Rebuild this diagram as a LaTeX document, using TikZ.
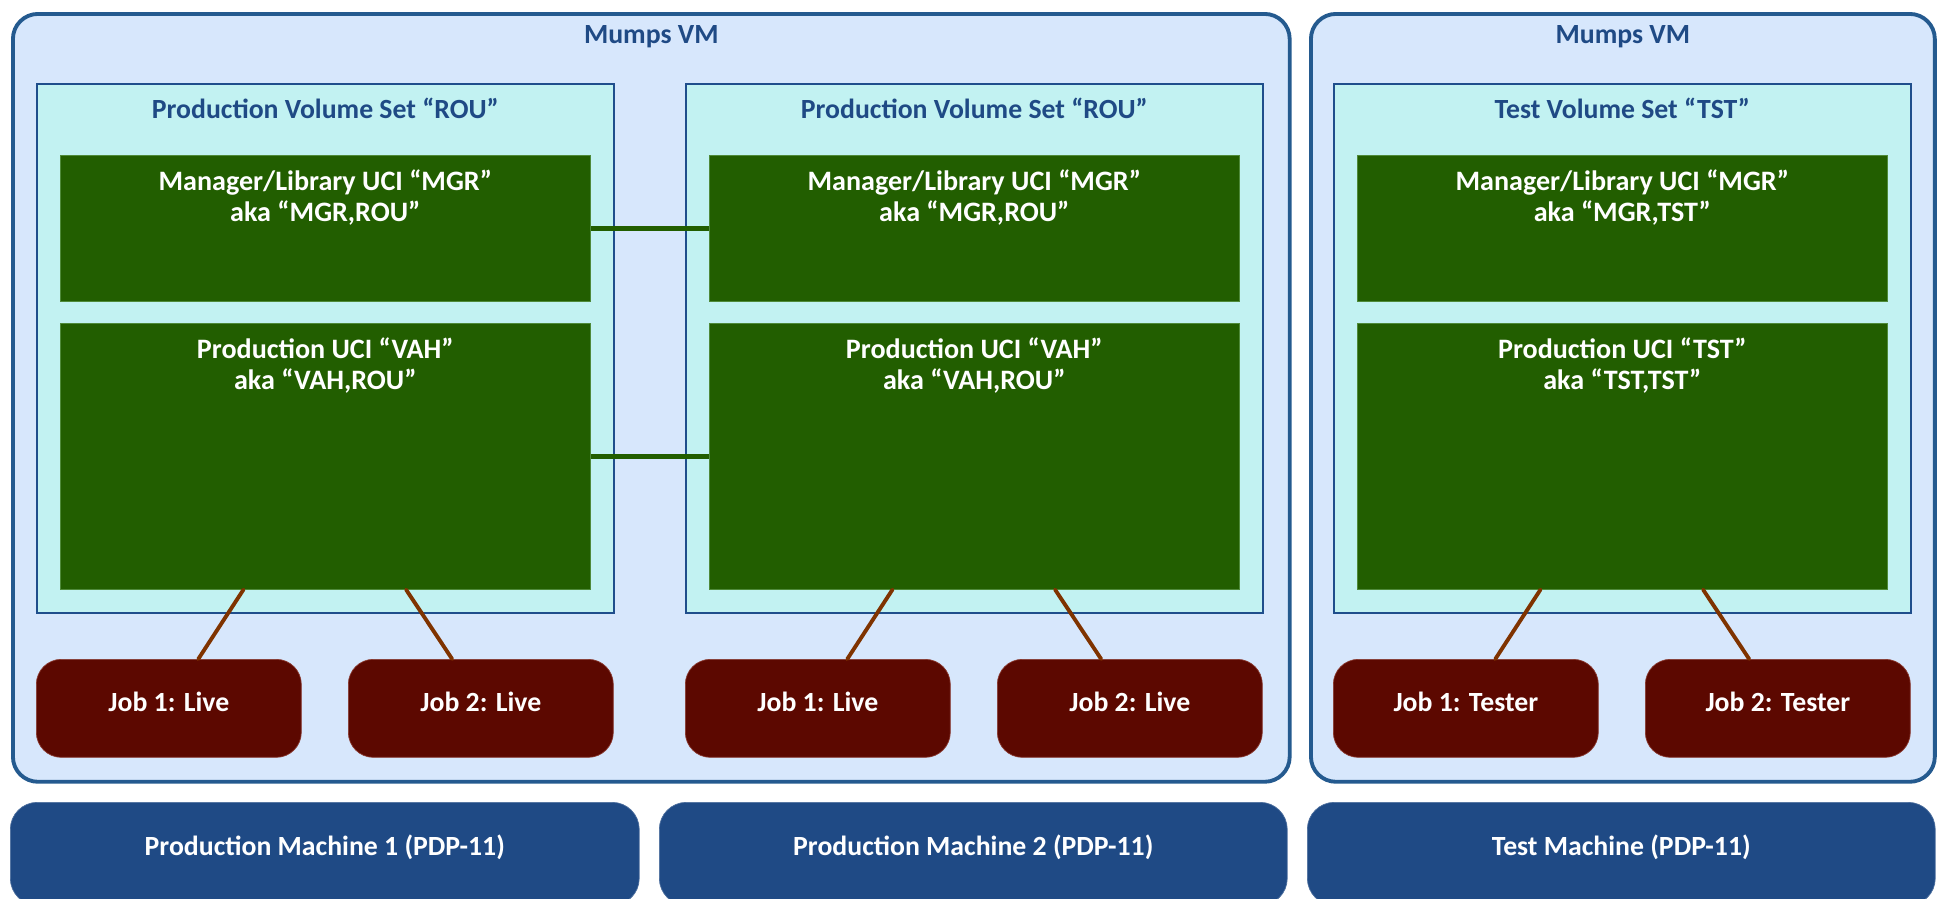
\documentclass[tikz,border=0pt]{standalone}
\usepackage{fontspec}
\setmainfont{Carlito}
\usetikzlibrary{calc}
\definecolor{vmfill}{HTML}{D7E7FC}
\definecolor{vmline}{HTML}{245A8F}
\definecolor{volfill}{HTML}{C2F2F2}
\definecolor{volline}{HTML}{1F4E8C}
\definecolor{ucifill}{HTML}{225E00}
\definecolor{uciline}{HTML}{4F8A3A}
\definecolor{jobfill}{HTML}{5C0800}
\definecolor{jobline}{HTML}{8A3A30}
\definecolor{linkbrown}{HTML}{7F3300}
\definecolor{hostfill}{HTML}{1F4A85}
\definecolor{titleblue}{HTML}{1F4A85}

\begin{document}
\begin{tikzpicture}[x=0.02cm, y=-0.02cm,
  every node/.style={font=\fontsize{15.8}{18}\selectfont\bfseries},
  vm/.style={draw=vmline, line width=2.2pt, fill=vmfill, rounded corners=0.5cm, anchor=north west, minimum height=15.36cm, inner sep=0},
  vol/.style={draw=volline, line width=1pt, fill=volfill, anchor=north west, minimum width=11.54cm, minimum height=10.58cm, inner sep=0},
  uci/.style={draw=uciline, line width=0.4pt, fill=ucifill, anchor=north west, minimum width=10.62cm, inner sep=0},
  job/.style={draw=jobline, line width=0.4pt, fill=jobfill, text=white, rounded corners=0.5cm, anchor=north west, minimum width=5.3cm, minimum height=1.96cm, inner sep=0, text height=11pt, text depth=7pt},
  host/.style={draw=hostfill!80!white, line width=0.4pt, fill=hostfill, text=white, rounded corners=0.54cm, anchor=north west, minimum height=2.06cm, inner sep=0, text height=11pt, text depth=9pt},
  boxtitle/.style={anchor=center, yshift=-0.5cm, text=titleblue},
  ucitext/.style={anchor=center, yshift=-0.85cm, text=white, align=center, font=\fontsize{16}{18}\selectfont\bfseries},
  glink/.style={draw=ucifill, line width=2.8pt},
  blink/.style={draw=linkbrown, line width=2.2pt, line cap=round}]
\useasboundingbox (0, 0) rectangle (1941, 899);

\node [vm, minimum width=25.54cm, label={[boxtitle]north:Mumps VM}] (VM1) at (11, 12) {};
\node [vm, minimum width=12.48cm, label={[boxtitle]north:Mumps VM}] (VM2) at (1309, 12) {};

\node [vol, label={[boxtitle]north:{Production Volume Set “ROU”}}] (V1) at (36, 83) {};
\node [vol, label={[boxtitle]north:{Production Volume Set “ROU”}}] (V2) at (685, 83) {};
\node [vol, label={[boxtitle]north:{Test Volume Set “TST”}}] (V3) at (1333, 83) {};

\node [uci, minimum height=2.92cm, label={[ucitext]north:{Manager/Library UCI “MGR”\\aka “MGR,ROU”}}] (M1) at (59.5, 155) {};
\node [uci, minimum height=2.92cm, label={[ucitext]north:{Manager/Library UCI “MGR”\\aka “MGR,ROU”}}] (M2) at (708.5, 155) {};
\node [uci, minimum height=2.92cm, label={[ucitext]north:{Manager/Library UCI “MGR”\\aka “MGR,TST”}}] (M3) at (1356.5, 155) {};

\node [uci, minimum height=5.32cm, label={[ucitext]north:{Production UCI “VAH”\\aka “VAH,ROU”}}] (P1) at (59.5, 323) {};
\node [uci, minimum height=5.32cm, label={[ucitext]north:{Production UCI “VAH”\\aka “VAH,ROU”}}] (P2) at (708.5, 323) {};
\node [uci, minimum height=5.32cm, label={[ucitext]north:{Production UCI “TST”\\aka “TST,TST”}}] (P3) at (1356.5, 323) {};

\node [job] (J1) at (36, 659) {Job 1: Live};
\node [job] (J2) at (348, 659) {Job 2: Live};
\node [job] (J3) at (685, 659) {Job 1: Live};
\node [job] (J4) at (997, 659) {Job 2: Live};
\node [job] (J5) at (1333, 659) {Job 1: Tester};
\node [job] (J6) at (1645, 659) {Job 2: Tester};

\node [host, minimum width=12.58cm] (H1) at (10, 802) {Production Machine 1 (PDP-11)};
\node [host, minimum width=12.56cm] (H2) at (659, 802) {Production Machine 2 (PDP-11)};
\node [host, minimum width=12.56cm] (H3) at (1307, 802) {Test Machine (PDP-11)};

\draw [glink] (M1.east) -- (M2.west);
\draw [glink] (P1.east) -- (P2.west);

\draw [blink] ($(P1.south west)!0.346!(P1.south east)$) -- ($(J1.north west)!0.611!(J1.north east)$);
\draw [blink] ($(P1.south west)!0.652!(P1.south east)$) -- ($(J2.north west)!0.392!(J2.north east)$);
\draw [blink] ($(P2.south west)!0.346!(P2.south east)$) -- ($(J3.north west)!0.611!(J3.north east)$);
\draw [blink] ($(P2.south west)!0.652!(P2.south east)$) -- ($(J4.north west)!0.392!(J4.north east)$);
\draw [blink] ($(P3.south west)!0.346!(P3.south east)$) -- ($(J5.north west)!0.611!(J5.north east)$);
\draw [blink] ($(P3.south west)!0.652!(P3.south east)$) -- ($(J6.north west)!0.392!(J6.north east)$);
\end{tikzpicture}
\end{document}
